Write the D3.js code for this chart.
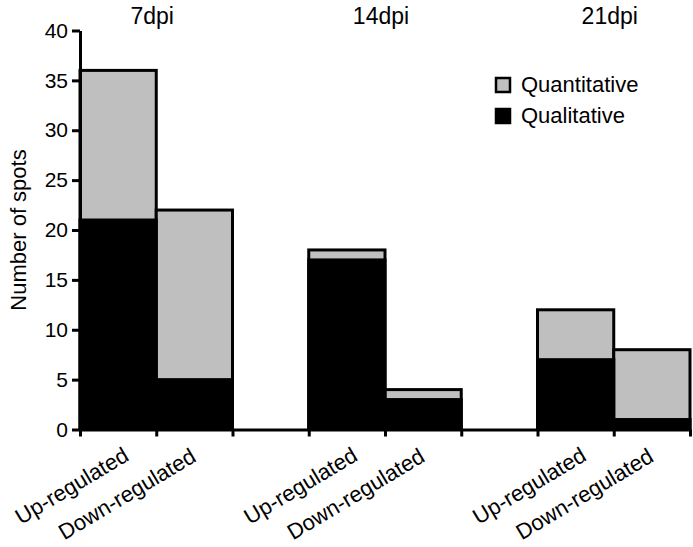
<!DOCTYPE html>
<html><head><meta charset="utf-8">
<script src="https://cdn.jsdelivr.net/npm/d3@7"></script>
<style>body{margin:0;background:#fff}svg{display:block}</style>
</head><body><svg id="c" width="693" height="547"></svg>
<script>
// ---- data ----
const groups = ["7dpi", "14dpi", "21dpi"];
const regulation = ["Up-regulated", "Down-regulated"];
const totalSpots = [36, 22, 18, 4, 12, 8];     // Quantitative + Qualitative (stack top)
const qualitative = [21, 5, 17, 3, 7, 1];
const yTicks = [0, 5, 10, 15, 20, 25, 30, 35, 40];
const seriesNames = ["Quantitative", "Qualitative"];
const seriesColors = ["#bfbfbf", "#000000"];

// ---- layout ----
const font = "'Liberation Sans', Arial, Helvetica, sans-serif";
const svg = d3.select("#c");
const plotL = 80, plotR = 690, plotT = 30.5, plotB = 429.5;
const nSlots = groups.length * 3 - 1;
const x = d3.scaleLinear().domain([0, nSlots]).range([plotL, plotR]);
const y = d3.scaleLinear().domain([0, 40]).range([plotB, plotT]);

const bars = [];
groups.forEach((g, gi) => regulation.forEach((r, ri) => {
  const i = gi * 2 + ri;
  bars.push({group: g, reg: r, slot: gi * 3 + ri, total: totalSpots[i], qual: qualitative[i]});
}));

// stacked bars: outline of total, black qualitative part
const bg = svg.append("g");
bg.selectAll("rect.tot").data(bars).join("rect").attr("class", "tot")
  .attr("x", d => x(d.slot)).attr("width", d => x(d.slot + 1) - x(d.slot))
  .attr("y", d => y(d.total)).attr("height", d => y(0) - y(d.total))
  .attr("fill", seriesColors[0]).attr("stroke", "#000").attr("stroke-width", 3);
bg.selectAll("rect.q").data(bars).join("rect").attr("class", "q")
  .attr("x", d => x(d.slot)).attr("width", d => x(d.slot + 1) - x(d.slot))
  .attr("y", d => y(d.qual)).attr("height", d => y(0) - y(d.qual))
  .attr("fill", seriesColors[1]).attr("stroke", "#000").attr("stroke-width", 3);

// y axis
const ya = svg.append("g").attr("transform", `translate(${plotL},0)`)
  .call(d3.axisLeft(y).tickValues(yTicks).tickSize(8).tickSizeOuter(0).tickPadding(4));
ya.select(".domain").attr("stroke-width", 3);
ya.selectAll(".tick line").attr("stroke-width", 3);
ya.selectAll(".tick text").attr("font-family", font).attr("font-size", 21).attr("fill", "#000");

// x axis (ticks at bar edges)
const xa = svg.append("g").attr("transform", `translate(0,${plotB})`)
  .call(d3.axisBottom(x).tickValues(d3.range(nSlots + 1)).tickSize(7).tickSizeOuter(0).tickFormat(""));
xa.select(".domain").attr("stroke-width", 3);
xa.selectAll(".tick line").attr("stroke-width", 3);

// rotated category labels
const labelOffset = {"Up-regulated": [12, 30], "Down-regulated": [3, 31]};
svg.append("g").selectAll("text").data(bars).join("text")
  .attr("transform", d => {
    const cx = (x(d.slot) + x(d.slot + 1)) / 2 + labelOffset[d.reg][0];
    const cy = plotB + labelOffset[d.reg][1];
    return `translate(${cx},${cy}) rotate(-31)`;
  })
  .attr("text-anchor", "end").attr("font-family", font).attr("font-size", 22)
  .text(d => d.reg);

// group titles
svg.append("g").selectAll("text").data(groups).join("text")
  .attr("x", (g, gi) => x(gi * 3 + 1) - 4).attr("y", 24)
  .attr("text-anchor", "middle").attr("font-family", font).attr("font-size", 23)
  .text(g => g);

// y title
svg.append("text").attr("transform", `translate(26,${(plotT + plotB) / 2}) rotate(-90)`)
  .attr("text-anchor", "middle").attr("font-family", font).attr("font-size", 22)
  .text("Number of spots");

// legend
const lg = svg.append("g").attr("transform", "translate(496,78)");
seriesNames.forEach((s, i) => {
  const row = lg.append("g").attr("transform", `translate(0,${i * 31})`);
  row.append("rect").attr("x", 0).attr("y", 0).attr("width", 14).attr("height", 14)
    .attr("fill", seriesColors[i]).attr("stroke", "#000").attr("stroke-width", 2.5);
  row.append("text").attr("x", 25).attr("y", 14).attr("font-family", font).attr("font-size", 22)
    .text(s);
});
</script>
</body></html>
